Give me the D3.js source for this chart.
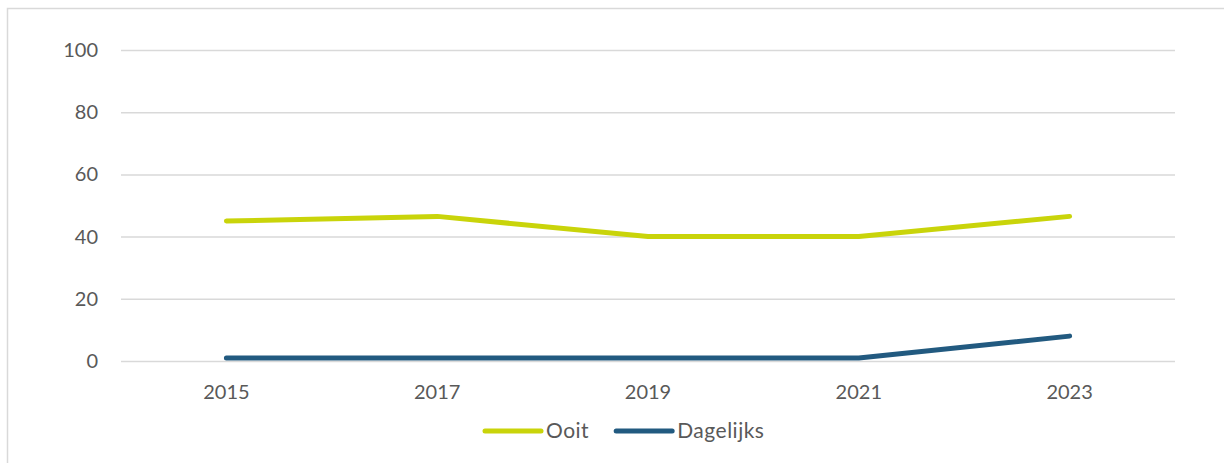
<!DOCTYPE html>
<html>
<head>
<meta charset="utf-8">
<script src="https://cdn.jsdelivr.net/npm/d3@7"></script>
<style>
  body { margin: 0; background: #fff; }
  svg { display: block; }
  text { font-family: Lato, "Open Sans", sans-serif; fill: #595959; }
</style>
</head>
<body>
<div id="chart"></div>
<script>
const years = ["2015", "2017", "2019", "2021", "2023"];
const ooit = [45, 46.5, 40, 40, 46.5];
const dagelijks = [1, 1, 1, 1, 8];
const yTicks = [0, 20, 40, 60, 80, 100];

const series = [
    { name: "Ooit", values: ooit, color: "#c9d40a" },
    { name: "Dagelijks", values: dagelijks, color: "#225a80" }
];

const width = 1224, height = 463;
const margin = { top: 50, right: 49, bottom: 102, left: 121 };

const svg = d3.select("#chart").append("svg")
    .attr("width", width)
    .attr("height", height);

// outer frame
svg.append("rect")
    .attr("x", 7.5).attr("y", 8.5)
    .attr("width", width + 10).attr("height", height + 10)
    .attr("fill", "none")
    .attr("stroke", "#d9d9d9")
    .attr("stroke-width", 1.5);

const x = d3.scaleBand()
    .domain(years)
    .range([margin.left, width - margin.right]);

const y = d3.scaleLinear()
    .domain([0, 100])
    .range([height - margin.bottom, margin.top]);

// gridlines + y labels
const yAxis = svg.append("g")
    .attr("transform", `translate(${margin.left},0)`)
    .call(d3.axisLeft(y).tickValues(yTicks)
        .tickSize(-(width - margin.left - margin.right))
        .tickPadding(23));
yAxis.select(".domain").remove();
yAxis.selectAll("line").attr("stroke", "#d9d9d9").attr("stroke-width", 1.5);
yAxis.selectAll("text").style("font-size", "20px").attr("fill", "#595959")
    .style("font-family", "Lato, sans-serif");

// x labels
const xAxis = svg.append("g")
    .attr("transform", `translate(0,${height - margin.bottom})`)
    .call(d3.axisBottom(x).tickSize(0).tickPadding(24));
xAxis.select(".domain").remove();
xAxis.selectAll("text").style("font-size", "20px").attr("fill", "#595959")
    .style("font-family", "Lato, sans-serif");

const line = d3.line()
    .x((d, i) => x(years[i]) + x.bandwidth() / 2)
    .y(d => y(d));

series.forEach(s => {
    svg.append("path")
        .datum(s.values)
        .attr("fill", "none")
        .attr("stroke", s.color)
        .attr("stroke-width", 5)
        .attr("stroke-linecap", "round")
        .attr("stroke-linejoin", "round")
        .attr("d", line);
});

// legend
const legend = svg.append("g").attr("transform", "translate(485,431)");
let lx = 0;
series.forEach(s => {
    const g = legend.append("g").attr("transform", `translate(${lx},0)`);
    g.append("line")
        .attr("x1", 0).attr("x2", 56)
        .attr("stroke", s.color)
        .attr("stroke-width", 5)
        .attr("stroke-linecap", "round");
    const t = g.append("text")
        .attr("x", 61).attr("y", 7)
        .style("font-size", "21px")
        .style("letter-spacing", "0.5px")
        .text(s.name);
    lx += 61 + t.node().getComputedTextLength() + 27;
});
</script>
</body>
</html>
